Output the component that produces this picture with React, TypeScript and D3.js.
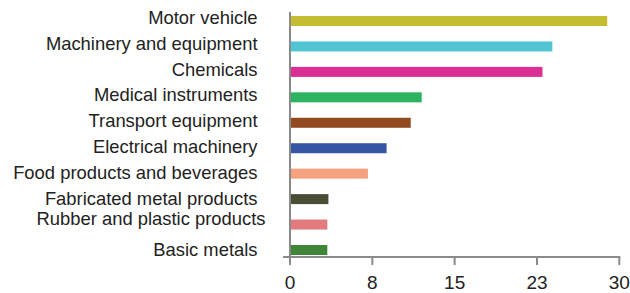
import React from "react";
import * as d3 from "d3";

const categories = [
  "Motor vehicle",
  "Machinery and equipment",
  "Chemicals",
  "Medical instruments",
  "Transport equipment",
  "Electrical machinery",
  "Food products and beverages",
  "Fabricated metal products",
  "Rubber and plastic products",
  "Basic metals",
];
const values = [28.9, 23.9, 23.0, 12.0, 11.0, 8.8, 7.1, 3.5, 3.4, 3.4];
const colors = [
  "#c4bd31",
  "#52c5d4",
  "#dc2d95",
  "#2bb35f",
  "#924a20",
  "#3556a5",
  "#f5a07f",
  "#4a4e35",
  "#e37a7d",
  "#3f8639",
];
const tickValues = [0, 7.5, 15, 22.5, 30];

const W = 630;
const H = 293;

export default function App() {
  const x = d3.scaleLinear().domain([0, 30]).range([290, 619.3]);
  const yBar = d3.scalePoint<string>().domain(categories).range([21, 250]);
  const yLabel = d3.scalePoint<string>().domain(categories).range([17.5, 250]);
  const barH = 10;
  const axisY = 257;
  const font = "'Liberation Sans', Arial, Helvetica, sans-serif";

  // one label in the original sits off its slot
  const labelShift = (c: string) =>
    c === "Rubber and plastic products" ? { dx: 8, dy: -6 } : { dx: 0, dy: 0 };

  return (
    <svg
      width={W}
      height={H}
      style={{ position: "absolute", left: 0, top: 0 }}
      fontFamily={font}
    >
      {categories.map((c, i) => (
        <rect
          key={c}
          x={x(0)}
          y={(yBar(c) as number) - barH / 2}
          width={x(values[i]) - x(0)}
          height={barH}
          fill={colors[i]}
        />
      ))}

      {categories.map((c) => {
        const s = labelShift(c);
        return (
          <text
            key={c}
            x={257.5 + s.dx}
            y={(yLabel(c) as number) + s.dy}
            dy="0.35em"
            textAnchor="end"
            fontSize={18.4}
            fill="#222"
          >
            {c}
          </text>
        );
      })}

      <line x1={x(0)} x2={x(0)} y1={12} y2={axisY} stroke="#8a8a8a" strokeWidth={2} />
      <line x1={283} x2={x(30) + 1} y1={axisY} y2={axisY} stroke="#8a8a8a" strokeWidth={2} />
      {tickValues.map((t) => (
        <g key={t}>
          <line x1={x(t)} x2={x(t)} y1={axisY} y2={axisY + 8} stroke="#8a8a8a" strokeWidth={2} />
          <text x={x(t)} y={288.5} textAnchor="middle" fontSize={19} fill="#222">
            {d3.format(".0f")(Math.round(t + 0.001))}
          </text>
        </g>
      ))}
    </svg>
  );
}
